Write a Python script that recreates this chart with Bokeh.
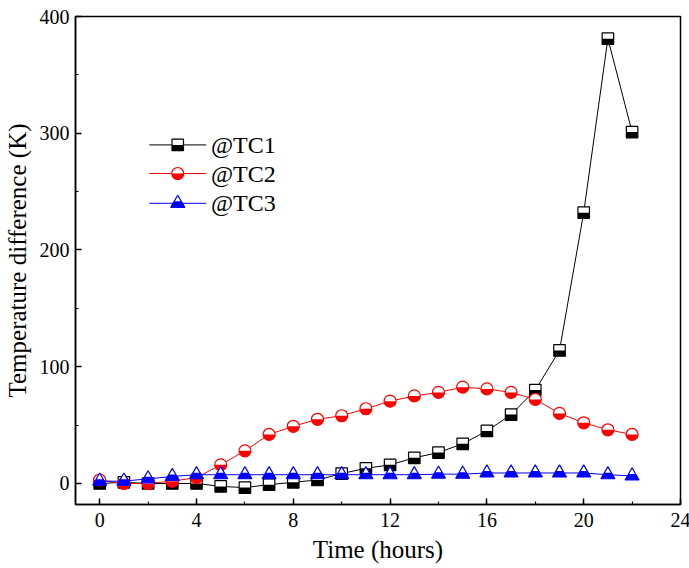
import math
from bokeh.plotting import figure
from bokeh.models import SingleIntervalTicker, Range1d
from bokeh.core.properties import value
from bokeh.embed import file_html
from bokeh.resources import INLINE

# ---- data -------------------------------------------------------------
hours = list(range(23))
tc1 = [0, 1, 0, 0, 0, -2.5, -3.5, -1, 1, 3, 8.5, 13, 16, 22, 26.5, 34,
       45, 59, 80, 114, 232, 381, 301]
tc2 = [3, 0, 0, 2, 5, 16, 28, 42, 49, 55, 58, 64, 70.5, 75, 78, 82.5,
       81, 78, 72, 60, 52, 46, 42]
tc3 = [2, 2, 4, 6, 7.5, 7.5, 7.5, 7.5, 7.5, 7.5, 7.5, 7.5, 7.5, 7.5, 8, 8,
       9, 9, 9, 9, 9, 7.5, 6.5]
series_names = ["@TC1", "@TC2", "@TC3"]

# ---- layout -----------------------------------------------------------
X_MIN, X_MAX = -1, 24
Y_MIN, Y_MAX = -18, 400
FRAME_W, FRAME_H = 605, 488
FONT = "Liberation Serif"
DX = (X_MAX - X_MIN) / FRAME_W   # data units per screen pixel
DY = (Y_MAX - Y_MIN) / FRAME_H

p = figure(frame_width=FRAME_W, frame_height=FRAME_H,
           min_border_left=72, min_border_right=12,
           min_border_top=16, min_border_bottom=64,
           x_range=Range1d(X_MIN, X_MAX), y_range=Range1d(Y_MIN, Y_MAX),
           output_backend="svg", toolbar_location=None,
           background_fill_color="white", border_fill_color="white")

p.xgrid.visible = False
p.ygrid.visible = False
p.outline_line_color = "black"
p.outline_line_width = 1.5

p.xaxis.ticker = SingleIntervalTicker(interval=4, num_minor_ticks=2)
p.yaxis.ticker = SingleIntervalTicker(interval=100, num_minor_ticks=2)
p.xaxis.axis_label = "Time (hours)"
p.yaxis.axis_label = "Temperature difference (K)"

for ax in (p.xaxis[0], p.yaxis[0]):
    ax.axis_line_width = 1.5
    ax.axis_line_color = "black"
    ax.major_tick_in = 6
    ax.major_tick_out = 0
    ax.minor_tick_in = 3
    ax.minor_tick_out = 0
    ax.major_tick_line_width = 1.5
    ax.minor_tick_line_width = 1.2
    ax.major_label_text_font = FONT
    ax.major_label_text_font_size = "20px"
    ax.major_label_text_font_style = "normal"
    ax.major_label_text_color = "black"
    ax.axis_label_text_font = FONT
    ax.axis_label_text_font_size = "25px"
    ax.axis_label_text_font_style = "normal"
    ax.axis_label_text_color = "black"

p.xaxis.major_label_standoff = 8
p.xaxis.axis_label_standoff = 6
p.yaxis.major_label_standoff = 6
p.yaxis.axis_label_standoff = 6


# ---- half-filled markers (lower half filled, upper half white) -------
def half_square(xs, ys, color, size=11.5):
    p.scatter(xs, ys, marker="square", size=size, fill_color="white", line_color=None)
    p.rect(xs, [y - size / 4 * DY for y in ys], width=size, height=size / 2,
           width_units="screen", height_units="screen",
           fill_color=color, line_color=None)
    p.scatter(xs, ys, marker="square", size=size, fill_color=None,
              line_color=color, line_width=1.2)


def half_circle(xs, ys, color, size=12):
    p.scatter(xs, ys, marker="circle", size=size, fill_color="white", line_color=None)
    p.wedge(xs, ys, radius=size / 2, radius_units="screen",
            start_angle=math.pi, end_angle=2 * math.pi,
            fill_color=color, line_color=None)
    p.scatter(xs, ys, marker="circle", size=size, fill_color=None,
              line_color=color, line_width=1.2)


def half_triangle(xs, ys, color, size=14):
    h = size * math.sqrt(3) / 2
    p.scatter(xs, ys, marker="triangle", size=size, fill_color=color, line_color=None)
    p.scatter(xs, [y + h / 3 * DY for y in ys], marker="triangle", size=size / 2,
              fill_color="white", line_color=None)
    p.scatter(xs, ys, marker="triangle", size=size, fill_color=None,
              line_color=color, line_width=1.2)


colors = ["black", "#ff0000", "#0000ff"]
markers = [half_square, half_circle, half_triangle]

for xs, ys, c, mk in zip([hours] * 3, [tc1, tc2, tc3], colors, markers):
    p.line(xs, ys, line_color=c, line_width=1)
    mk(xs, ys, c)

# ---- legend -----------------------------------------------------------
LEG_X0, LEG_X1 = 2.05, 4.4
LEG_TEXT_X = 4.6
LEG_ROWS = [290, 265.5, 240]
for name, c, mk, ly in zip(series_names, colors, markers, LEG_ROWS):
    p.line([LEG_X0, LEG_X1], [ly, ly], line_color=c, line_width=1)
    mk([(LEG_X0 + LEG_X1) / 2], [ly], c)
    p.text([LEG_TEXT_X], [ly], text=[name], text_font=value(FONT),
           text_font_size="24px", text_font_style="normal",
           text_baseline="middle", text_align="left", text_color="black")

open("out.html", "w").write(file_html(p, INLINE))
